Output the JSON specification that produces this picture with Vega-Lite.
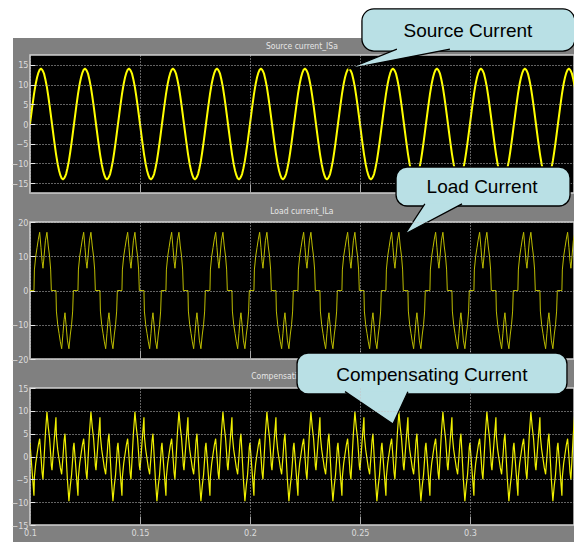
{
"$schema":"https://vega.github.io/schema/vega-lite/v6.json",
"background":"#ffffff",
"padding":{"left":-7,"top":-9,"right":0,"bottom":0},
"spacing":29,
"bounds":"flush",
"config":{
"view":{"fill":"#000000","stroke":"#808080","strokeWidth":34},
"axis":{"zindex":1,"grid":true,"gridColor":"#c4c4c4","gridDash":[1,2],"gridWidth":1,"domain":false,"labelColor":"#dcdcdc","labelFont":"Liberation Sans Narrow, DejaVu Sans Condensed, Liberation Sans","labelFontSize":9,"labelOverlap":false,"tickCount":12},
"axisX":{"ticks":true,"tickSize":-9,"tickColor":"#a8a8a8","tickWidth":1,"labelPadding":12},
"axisY":{"ticks":true,"tickSize":-5,"tickColor":"#e8e8e8","tickWidth":1,"labelPadding":7}
},
"datasets":{"w":[
{"t":0.1000,"s":0,"l":0,"c":3},{"t":0.1010,"s":4.3,"l":0,"c":-3.5},{"t":0.1018,"s":7.5,"l":0,"c":-8.6},{"t":0.1020,"s":8.2,"l":6,"c":-4.5},{"t":0.1026,"s":10.2,"l":10,"c":-1.5},{"t":0.1032,"s":11.8,"l":12.5,"c":0.5},{"t":0.1038,"s":13,"l":15,"c":2.5},{"t":0.1044,"s":13.8,"l":17,"c":3.9},{"t":0.1050,"s":14,"l":12.5,"c":0},{"t":0.1055,"s":13.8,"l":8.5,"c":-3.5},{"t":0.1059,"s":13.4,"l":6.5,"c":-5},{"t":0.1064,"s":12.7,"l":10,"c":-0.5},{"t":0.1070,"s":11.3,"l":14.5,"c":5},{"t":0.1077,"s":9.3,"l":17,"c":9.8},{"t":0.1083,"s":7.1,"l":13,"c":6.5},{"t":0.1089,"s":4.7,"l":10,"c":4},{"t":0.1094,"s":2.6,"l":6,"c":0.5},{"t":0.1097,"s":1.3,"l":0,"c":-2},
{"t":0.1100,"s":0,"l":0,"c":-3},{"t":0.1110,"s":-4.3,"l":0,"c":3.5},{"t":0.1118,"s":-7.5,"l":0,"c":8.6},{"t":0.1120,"s":-8.2,"l":-6,"c":4.5},{"t":0.1126,"s":-10.2,"l":-10,"c":1.5},{"t":0.1132,"s":-11.8,"l":-12.5,"c":-0.5},{"t":0.1138,"s":-13,"l":-15,"c":-2.5},{"t":0.1144,"s":-13.8,"l":-17,"c":-3.9},{"t":0.1150,"s":-14,"l":-12.5,"c":0},{"t":0.1155,"s":-13.8,"l":-8.5,"c":3.5},{"t":0.1159,"s":-13.4,"l":-6.5,"c":5},{"t":0.1164,"s":-12.7,"l":-10,"c":0.5},{"t":0.1170,"s":-11.3,"l":-14.5,"c":-5},{"t":0.1177,"s":-9.3,"l":-17,"c":-9.8},{"t":0.1183,"s":-7.1,"l":-13,"c":-6.5},{"t":0.1189,"s":-4.7,"l":-10,"c":-4},{"t":0.1194,"s":-2.6,"l":-6,"c":-0.5},{"t":0.1197,"s":-1.3,"l":0,"c":2},
{"t":0.1200,"s":0,"l":0,"c":3},{"t":0.1210,"s":4.3,"l":0,"c":-3.5},{"t":0.1218,"s":7.5,"l":0,"c":-8.6},{"t":0.1220,"s":8.2,"l":6,"c":-4.5},{"t":0.1226,"s":10.2,"l":10,"c":-1.5},{"t":0.1232,"s":11.8,"l":12.5,"c":0.5},{"t":0.1238,"s":13,"l":15,"c":2.5},{"t":0.1244,"s":13.8,"l":17,"c":3.9},{"t":0.1250,"s":14,"l":12.5,"c":0},{"t":0.1255,"s":13.8,"l":8.5,"c":-3.5},{"t":0.1259,"s":13.4,"l":6.5,"c":-5},{"t":0.1264,"s":12.7,"l":10,"c":-0.5},{"t":0.1270,"s":11.3,"l":14.5,"c":5},{"t":0.1277,"s":9.3,"l":17,"c":9.8},{"t":0.1283,"s":7.1,"l":13,"c":6.5},{"t":0.1289,"s":4.7,"l":10,"c":4},{"t":0.1294,"s":2.6,"l":6,"c":0.5},{"t":0.1297,"s":1.3,"l":0,"c":-2},
{"t":0.1300,"s":0,"l":0,"c":-3},{"t":0.1310,"s":-4.3,"l":0,"c":3.5},{"t":0.1318,"s":-7.5,"l":0,"c":8.6},{"t":0.1320,"s":-8.2,"l":-6,"c":4.5},{"t":0.1326,"s":-10.2,"l":-10,"c":1.5},{"t":0.1332,"s":-11.8,"l":-12.5,"c":-0.5},{"t":0.1338,"s":-13,"l":-15,"c":-2.5},{"t":0.1344,"s":-13.8,"l":-17,"c":-3.9},{"t":0.1350,"s":-14,"l":-12.5,"c":0},{"t":0.1355,"s":-13.8,"l":-8.5,"c":3.5},{"t":0.1359,"s":-13.4,"l":-6.5,"c":5},{"t":0.1364,"s":-12.7,"l":-10,"c":0.5},{"t":0.1370,"s":-11.3,"l":-14.5,"c":-5},{"t":0.1377,"s":-9.3,"l":-17,"c":-9.8},{"t":0.1383,"s":-7.1,"l":-13,"c":-6.5},{"t":0.1389,"s":-4.7,"l":-10,"c":-4},{"t":0.1394,"s":-2.6,"l":-6,"c":-0.5},{"t":0.1397,"s":-1.3,"l":0,"c":2},
{"t":0.1400,"s":0,"l":0,"c":3},{"t":0.1410,"s":4.3,"l":0,"c":-3.5},{"t":0.1418,"s":7.5,"l":0,"c":-8.6},{"t":0.1420,"s":8.2,"l":6,"c":-4.5},{"t":0.1426,"s":10.2,"l":10,"c":-1.5},{"t":0.1432,"s":11.8,"l":12.5,"c":0.5},{"t":0.1438,"s":13,"l":15,"c":2.5},{"t":0.1444,"s":13.8,"l":17,"c":3.9},{"t":0.1450,"s":14,"l":12.5,"c":0},{"t":0.1455,"s":13.8,"l":8.5,"c":-3.5},{"t":0.1459,"s":13.4,"l":6.5,"c":-5},{"t":0.1464,"s":12.7,"l":10,"c":-0.5},{"t":0.1470,"s":11.3,"l":14.5,"c":5},{"t":0.1477,"s":9.3,"l":17,"c":9.8},{"t":0.1483,"s":7.1,"l":13,"c":6.5},{"t":0.1489,"s":4.7,"l":10,"c":4},{"t":0.1494,"s":2.6,"l":6,"c":0.5},{"t":0.1497,"s":1.3,"l":0,"c":-2},
{"t":0.1500,"s":0,"l":0,"c":-3},{"t":0.1510,"s":-4.3,"l":0,"c":3.5},{"t":0.1518,"s":-7.5,"l":0,"c":8.6},{"t":0.1520,"s":-8.2,"l":-6,"c":4.5},{"t":0.1526,"s":-10.2,"l":-10,"c":1.5},{"t":0.1532,"s":-11.8,"l":-12.5,"c":-0.5},{"t":0.1538,"s":-13,"l":-15,"c":-2.5},{"t":0.1544,"s":-13.8,"l":-17,"c":-3.9},{"t":0.1550,"s":-14,"l":-12.5,"c":0},{"t":0.1555,"s":-13.8,"l":-8.5,"c":3.5},{"t":0.1559,"s":-13.4,"l":-6.5,"c":5},{"t":0.1564,"s":-12.7,"l":-10,"c":0.5},{"t":0.1570,"s":-11.3,"l":-14.5,"c":-5},{"t":0.1577,"s":-9.3,"l":-17,"c":-9.8},{"t":0.1583,"s":-7.1,"l":-13,"c":-6.5},{"t":0.1589,"s":-4.7,"l":-10,"c":-4},{"t":0.1594,"s":-2.6,"l":-6,"c":-0.5},{"t":0.1597,"s":-1.3,"l":0,"c":2},
{"t":0.1600,"s":0,"l":0,"c":3},{"t":0.1610,"s":4.3,"l":0,"c":-3.5},{"t":0.1618,"s":7.5,"l":0,"c":-8.6},{"t":0.1620,"s":8.2,"l":6,"c":-4.5},{"t":0.1626,"s":10.2,"l":10,"c":-1.5},{"t":0.1632,"s":11.8,"l":12.5,"c":0.5},{"t":0.1638,"s":13,"l":15,"c":2.5},{"t":0.1644,"s":13.8,"l":17,"c":3.9},{"t":0.1650,"s":14,"l":12.5,"c":0},{"t":0.1655,"s":13.8,"l":8.5,"c":-3.5},{"t":0.1659,"s":13.4,"l":6.5,"c":-5},{"t":0.1664,"s":12.7,"l":10,"c":-0.5},{"t":0.1670,"s":11.3,"l":14.5,"c":5},{"t":0.1677,"s":9.3,"l":17,"c":9.8},{"t":0.1683,"s":7.1,"l":13,"c":6.5},{"t":0.1689,"s":4.7,"l":10,"c":4},{"t":0.1694,"s":2.6,"l":6,"c":0.5},{"t":0.1697,"s":1.3,"l":0,"c":-2},
{"t":0.1700,"s":0,"l":0,"c":-3},{"t":0.1710,"s":-4.3,"l":0,"c":3.5},{"t":0.1718,"s":-7.5,"l":0,"c":8.6},{"t":0.1720,"s":-8.2,"l":-6,"c":4.5},{"t":0.1726,"s":-10.2,"l":-10,"c":1.5},{"t":0.1732,"s":-11.8,"l":-12.5,"c":-0.5},{"t":0.1738,"s":-13,"l":-15,"c":-2.5},{"t":0.1744,"s":-13.8,"l":-17,"c":-3.9},{"t":0.1750,"s":-14,"l":-12.5,"c":0},{"t":0.1755,"s":-13.8,"l":-8.5,"c":3.5},{"t":0.1759,"s":-13.4,"l":-6.5,"c":5},{"t":0.1764,"s":-12.7,"l":-10,"c":0.5},{"t":0.1770,"s":-11.3,"l":-14.5,"c":-5},{"t":0.1777,"s":-9.3,"l":-17,"c":-9.8},{"t":0.1783,"s":-7.1,"l":-13,"c":-6.5},{"t":0.1789,"s":-4.7,"l":-10,"c":-4},{"t":0.1794,"s":-2.6,"l":-6,"c":-0.5},{"t":0.1797,"s":-1.3,"l":0,"c":2},
{"t":0.1800,"s":0,"l":0,"c":3},{"t":0.1810,"s":4.3,"l":0,"c":-3.5},{"t":0.1818,"s":7.5,"l":0,"c":-8.6},{"t":0.1820,"s":8.2,"l":6,"c":-4.5},{"t":0.1826,"s":10.2,"l":10,"c":-1.5},{"t":0.1832,"s":11.8,"l":12.5,"c":0.5},{"t":0.1838,"s":13,"l":15,"c":2.5},{"t":0.1844,"s":13.8,"l":17,"c":3.9},{"t":0.1850,"s":14,"l":12.5,"c":0},{"t":0.1855,"s":13.8,"l":8.5,"c":-3.5},{"t":0.1859,"s":13.4,"l":6.5,"c":-5},{"t":0.1864,"s":12.7,"l":10,"c":-0.5},{"t":0.1870,"s":11.3,"l":14.5,"c":5},{"t":0.1877,"s":9.3,"l":17,"c":9.8},{"t":0.1883,"s":7.1,"l":13,"c":6.5},{"t":0.1889,"s":4.7,"l":10,"c":4},{"t":0.1894,"s":2.6,"l":6,"c":0.5},{"t":0.1897,"s":1.3,"l":0,"c":-2},
{"t":0.1900,"s":0,"l":0,"c":-3},{"t":0.1910,"s":-4.3,"l":0,"c":3.5},{"t":0.1918,"s":-7.5,"l":0,"c":8.6},{"t":0.1920,"s":-8.2,"l":-6,"c":4.5},{"t":0.1926,"s":-10.2,"l":-10,"c":1.5},{"t":0.1932,"s":-11.8,"l":-12.5,"c":-0.5},{"t":0.1938,"s":-13,"l":-15,"c":-2.5},{"t":0.1944,"s":-13.8,"l":-17,"c":-3.9},{"t":0.1950,"s":-14,"l":-12.5,"c":0},{"t":0.1955,"s":-13.8,"l":-8.5,"c":3.5},{"t":0.1959,"s":-13.4,"l":-6.5,"c":5},{"t":0.1964,"s":-12.7,"l":-10,"c":0.5},{"t":0.1970,"s":-11.3,"l":-14.5,"c":-5},{"t":0.1977,"s":-9.3,"l":-17,"c":-9.8},{"t":0.1983,"s":-7.1,"l":-13,"c":-6.5},{"t":0.1989,"s":-4.7,"l":-10,"c":-4},{"t":0.1994,"s":-2.6,"l":-6,"c":-0.5},{"t":0.1997,"s":-1.3,"l":0,"c":2},
{"t":0.2000,"s":0,"l":0,"c":3},{"t":0.2010,"s":4.3,"l":0,"c":-3.5},{"t":0.2018,"s":7.5,"l":0,"c":-8.6},{"t":0.2020,"s":8.2,"l":6,"c":-4.5},{"t":0.2026,"s":10.2,"l":10,"c":-1.5},{"t":0.2032,"s":11.8,"l":12.5,"c":0.5},{"t":0.2038,"s":13,"l":15,"c":2.5},{"t":0.2044,"s":13.8,"l":17,"c":3.9},{"t":0.2050,"s":14,"l":12.5,"c":0},{"t":0.2055,"s":13.8,"l":8.5,"c":-3.5},{"t":0.2059,"s":13.4,"l":6.5,"c":-5},{"t":0.2064,"s":12.7,"l":10,"c":-0.5},{"t":0.2070,"s":11.3,"l":14.5,"c":5},{"t":0.2077,"s":9.3,"l":17,"c":9.8},{"t":0.2083,"s":7.1,"l":13,"c":6.5},{"t":0.2089,"s":4.7,"l":10,"c":4},{"t":0.2094,"s":2.6,"l":6,"c":0.5},{"t":0.2097,"s":1.3,"l":0,"c":-2},
{"t":0.2100,"s":0,"l":0,"c":-3},{"t":0.2110,"s":-4.3,"l":0,"c":3.5},{"t":0.2118,"s":-7.5,"l":0,"c":8.6},{"t":0.2120,"s":-8.2,"l":-6,"c":4.5},{"t":0.2126,"s":-10.2,"l":-10,"c":1.5},{"t":0.2132,"s":-11.8,"l":-12.5,"c":-0.5},{"t":0.2138,"s":-13,"l":-15,"c":-2.5},{"t":0.2144,"s":-13.8,"l":-17,"c":-3.9},{"t":0.2150,"s":-14,"l":-12.5,"c":0},{"t":0.2155,"s":-13.8,"l":-8.5,"c":3.5},{"t":0.2159,"s":-13.4,"l":-6.5,"c":5},{"t":0.2164,"s":-12.7,"l":-10,"c":0.5},{"t":0.2170,"s":-11.3,"l":-14.5,"c":-5},{"t":0.2177,"s":-9.3,"l":-17,"c":-9.8},{"t":0.2183,"s":-7.1,"l":-13,"c":-6.5},{"t":0.2189,"s":-4.7,"l":-10,"c":-4},{"t":0.2194,"s":-2.6,"l":-6,"c":-0.5},{"t":0.2197,"s":-1.3,"l":0,"c":2},
{"t":0.2200,"s":0,"l":0,"c":3},{"t":0.2210,"s":4.3,"l":0,"c":-3.5},{"t":0.2218,"s":7.5,"l":0,"c":-8.6},{"t":0.2220,"s":8.2,"l":6,"c":-4.5},{"t":0.2226,"s":10.2,"l":10,"c":-1.5},{"t":0.2232,"s":11.8,"l":12.5,"c":0.5},{"t":0.2238,"s":13,"l":15,"c":2.5},{"t":0.2244,"s":13.8,"l":17,"c":3.9},{"t":0.2250,"s":14,"l":12.5,"c":0},{"t":0.2255,"s":13.8,"l":8.5,"c":-3.5},{"t":0.2259,"s":13.4,"l":6.5,"c":-5},{"t":0.2264,"s":12.7,"l":10,"c":-0.5},{"t":0.2270,"s":11.3,"l":14.5,"c":5},{"t":0.2277,"s":9.3,"l":17,"c":9.8},{"t":0.2283,"s":7.1,"l":13,"c":6.5},{"t":0.2289,"s":4.7,"l":10,"c":4},{"t":0.2294,"s":2.6,"l":6,"c":0.5},{"t":0.2297,"s":1.3,"l":0,"c":-2},
{"t":0.2300,"s":0,"l":0,"c":-3},{"t":0.2310,"s":-4.3,"l":0,"c":3.5},{"t":0.2318,"s":-7.5,"l":0,"c":8.6},{"t":0.2320,"s":-8.2,"l":-6,"c":4.5},{"t":0.2326,"s":-10.2,"l":-10,"c":1.5},{"t":0.2332,"s":-11.8,"l":-12.5,"c":-0.5},{"t":0.2338,"s":-13,"l":-15,"c":-2.5},{"t":0.2344,"s":-13.8,"l":-17,"c":-3.9},{"t":0.2350,"s":-14,"l":-12.5,"c":0},{"t":0.2355,"s":-13.8,"l":-8.5,"c":3.5},{"t":0.2359,"s":-13.4,"l":-6.5,"c":5},{"t":0.2364,"s":-12.7,"l":-10,"c":0.5},{"t":0.2370,"s":-11.3,"l":-14.5,"c":-5},{"t":0.2377,"s":-9.3,"l":-17,"c":-9.8},{"t":0.2383,"s":-7.1,"l":-13,"c":-6.5},{"t":0.2389,"s":-4.7,"l":-10,"c":-4},{"t":0.2394,"s":-2.6,"l":-6,"c":-0.5},{"t":0.2397,"s":-1.3,"l":0,"c":2},
{"t":0.2400,"s":0,"l":0,"c":3},{"t":0.2410,"s":4.3,"l":0,"c":-3.5},{"t":0.2418,"s":7.5,"l":0,"c":-8.6},{"t":0.2420,"s":8.2,"l":6,"c":-4.5},{"t":0.2426,"s":10.2,"l":10,"c":-1.5},{"t":0.2432,"s":11.8,"l":12.5,"c":0.5},{"t":0.2438,"s":13,"l":15,"c":2.5},{"t":0.2444,"s":13.8,"l":17,"c":3.9},{"t":0.2450,"s":14,"l":12.5,"c":0},{"t":0.2455,"s":13.8,"l":8.5,"c":-3.5},{"t":0.2459,"s":13.4,"l":6.5,"c":-5},{"t":0.2464,"s":12.7,"l":10,"c":-0.5},{"t":0.2470,"s":11.3,"l":14.5,"c":5},{"t":0.2477,"s":9.3,"l":17,"c":9.8},{"t":0.2483,"s":7.1,"l":13,"c":6.5},{"t":0.2489,"s":4.7,"l":10,"c":4},{"t":0.2494,"s":2.6,"l":6,"c":0.5},{"t":0.2497,"s":1.3,"l":0,"c":-2},
{"t":0.2500,"s":0,"l":0,"c":-3},{"t":0.2510,"s":-4.3,"l":0,"c":3.5},{"t":0.2518,"s":-7.5,"l":0,"c":8.6},{"t":0.2520,"s":-8.2,"l":-6,"c":4.5},{"t":0.2526,"s":-10.2,"l":-10,"c":1.5},{"t":0.2532,"s":-11.8,"l":-12.5,"c":-0.5},{"t":0.2538,"s":-13,"l":-15,"c":-2.5},{"t":0.2544,"s":-13.8,"l":-17,"c":-3.9},{"t":0.2550,"s":-14,"l":-12.5,"c":0},{"t":0.2555,"s":-13.8,"l":-8.5,"c":3.5},{"t":0.2559,"s":-13.4,"l":-6.5,"c":5},{"t":0.2564,"s":-12.7,"l":-10,"c":0.5},{"t":0.2570,"s":-11.3,"l":-14.5,"c":-5},{"t":0.2577,"s":-9.3,"l":-17,"c":-9.8},{"t":0.2583,"s":-7.1,"l":-13,"c":-6.5},{"t":0.2589,"s":-4.7,"l":-10,"c":-4},{"t":0.2594,"s":-2.6,"l":-6,"c":-0.5},{"t":0.2597,"s":-1.3,"l":0,"c":2},
{"t":0.2600,"s":0,"l":0,"c":3},{"t":0.2610,"s":4.3,"l":0,"c":-3.5},{"t":0.2618,"s":7.5,"l":0,"c":-8.6},{"t":0.2620,"s":8.2,"l":6,"c":-4.5},{"t":0.2626,"s":10.2,"l":10,"c":-1.5},{"t":0.2632,"s":11.8,"l":12.5,"c":0.5},{"t":0.2638,"s":13,"l":15,"c":2.5},{"t":0.2644,"s":13.8,"l":17,"c":3.9},{"t":0.2650,"s":14,"l":12.5,"c":0},{"t":0.2655,"s":13.8,"l":8.5,"c":-3.5},{"t":0.2659,"s":13.4,"l":6.5,"c":-5},{"t":0.2664,"s":12.7,"l":10,"c":-0.5},{"t":0.2670,"s":11.3,"l":14.5,"c":5},{"t":0.2677,"s":9.3,"l":17,"c":9.8},{"t":0.2683,"s":7.1,"l":13,"c":6.5},{"t":0.2689,"s":4.7,"l":10,"c":4},{"t":0.2694,"s":2.6,"l":6,"c":0.5},{"t":0.2697,"s":1.3,"l":0,"c":-2},
{"t":0.2700,"s":0,"l":0,"c":-3},{"t":0.2710,"s":-4.3,"l":0,"c":3.5},{"t":0.2718,"s":-7.5,"l":0,"c":8.6},{"t":0.2720,"s":-8.2,"l":-6,"c":4.5},{"t":0.2726,"s":-10.2,"l":-10,"c":1.5},{"t":0.2732,"s":-11.8,"l":-12.5,"c":-0.5},{"t":0.2738,"s":-13,"l":-15,"c":-2.5},{"t":0.2744,"s":-13.8,"l":-17,"c":-3.9},{"t":0.2750,"s":-14,"l":-12.5,"c":0},{"t":0.2755,"s":-13.8,"l":-8.5,"c":3.5},{"t":0.2759,"s":-13.4,"l":-6.5,"c":5},{"t":0.2764,"s":-12.7,"l":-10,"c":0.5},{"t":0.2770,"s":-11.3,"l":-14.5,"c":-5},{"t":0.2777,"s":-9.3,"l":-17,"c":-9.8},{"t":0.2783,"s":-7.1,"l":-13,"c":-6.5},{"t":0.2789,"s":-4.7,"l":-10,"c":-4},{"t":0.2794,"s":-2.6,"l":-6,"c":-0.5},{"t":0.2797,"s":-1.3,"l":0,"c":2},
{"t":0.2800,"s":0,"l":0,"c":3},{"t":0.2810,"s":4.3,"l":0,"c":-3.5},{"t":0.2818,"s":7.5,"l":0,"c":-8.6},{"t":0.2820,"s":8.2,"l":6,"c":-4.5},{"t":0.2826,"s":10.2,"l":10,"c":-1.5},{"t":0.2832,"s":11.8,"l":12.5,"c":0.5},{"t":0.2838,"s":13,"l":15,"c":2.5},{"t":0.2844,"s":13.8,"l":17,"c":3.9},{"t":0.2850,"s":14,"l":12.5,"c":0},{"t":0.2855,"s":13.8,"l":8.5,"c":-3.5},{"t":0.2859,"s":13.4,"l":6.5,"c":-5},{"t":0.2864,"s":12.7,"l":10,"c":-0.5},{"t":0.2870,"s":11.3,"l":14.5,"c":5},{"t":0.2877,"s":9.3,"l":17,"c":9.8},{"t":0.2883,"s":7.1,"l":13,"c":6.5},{"t":0.2889,"s":4.7,"l":10,"c":4},{"t":0.2894,"s":2.6,"l":6,"c":0.5},{"t":0.2897,"s":1.3,"l":0,"c":-2},
{"t":0.2900,"s":0,"l":0,"c":-3},{"t":0.2910,"s":-4.3,"l":0,"c":3.5},{"t":0.2918,"s":-7.5,"l":0,"c":8.6},{"t":0.2920,"s":-8.2,"l":-6,"c":4.5},{"t":0.2926,"s":-10.2,"l":-10,"c":1.5},{"t":0.2932,"s":-11.8,"l":-12.5,"c":-0.5},{"t":0.2938,"s":-13,"l":-15,"c":-2.5},{"t":0.2944,"s":-13.8,"l":-17,"c":-3.9},{"t":0.2950,"s":-14,"l":-12.5,"c":0},{"t":0.2955,"s":-13.8,"l":-8.5,"c":3.5},{"t":0.2959,"s":-13.4,"l":-6.5,"c":5},{"t":0.2964,"s":-12.7,"l":-10,"c":0.5},{"t":0.2970,"s":-11.3,"l":-14.5,"c":-5},{"t":0.2977,"s":-9.3,"l":-17,"c":-9.8},{"t":0.2983,"s":-7.1,"l":-13,"c":-6.5},{"t":0.2989,"s":-4.7,"l":-10,"c":-4},{"t":0.2994,"s":-2.6,"l":-6,"c":-0.5},{"t":0.2997,"s":-1.3,"l":0,"c":2},
{"t":0.3000,"s":0,"l":0,"c":3},{"t":0.3010,"s":4.3,"l":0,"c":-3.5},{"t":0.3018,"s":7.5,"l":0,"c":-8.6},{"t":0.3020,"s":8.2,"l":6,"c":-4.5},{"t":0.3026,"s":10.2,"l":10,"c":-1.5},{"t":0.3032,"s":11.8,"l":12.5,"c":0.5},{"t":0.3038,"s":13,"l":15,"c":2.5},{"t":0.3044,"s":13.8,"l":17,"c":3.9},{"t":0.3050,"s":14,"l":12.5,"c":0},{"t":0.3055,"s":13.8,"l":8.5,"c":-3.5},{"t":0.3059,"s":13.4,"l":6.5,"c":-5},{"t":0.3064,"s":12.7,"l":10,"c":-0.5},{"t":0.3070,"s":11.3,"l":14.5,"c":5},{"t":0.3077,"s":9.3,"l":17,"c":9.8},{"t":0.3083,"s":7.1,"l":13,"c":6.5},{"t":0.3089,"s":4.7,"l":10,"c":4},{"t":0.3094,"s":2.6,"l":6,"c":0.5},{"t":0.3097,"s":1.3,"l":0,"c":-2},
{"t":0.3100,"s":0,"l":0,"c":-3},{"t":0.3110,"s":-4.3,"l":0,"c":3.5},{"t":0.3118,"s":-7.5,"l":0,"c":8.6},{"t":0.3120,"s":-8.2,"l":-6,"c":4.5},{"t":0.3126,"s":-10.2,"l":-10,"c":1.5},{"t":0.3132,"s":-11.8,"l":-12.5,"c":-0.5},{"t":0.3138,"s":-13,"l":-15,"c":-2.5},{"t":0.3144,"s":-13.8,"l":-17,"c":-3.9},{"t":0.3150,"s":-14,"l":-12.5,"c":0},{"t":0.3155,"s":-13.8,"l":-8.5,"c":3.5},{"t":0.3159,"s":-13.4,"l":-6.5,"c":5},{"t":0.3164,"s":-12.7,"l":-10,"c":0.5},{"t":0.3170,"s":-11.3,"l":-14.5,"c":-5},{"t":0.3177,"s":-9.3,"l":-17,"c":-9.8},{"t":0.3183,"s":-7.1,"l":-13,"c":-6.5},{"t":0.3189,"s":-4.7,"l":-10,"c":-4},{"t":0.3194,"s":-2.6,"l":-6,"c":-0.5},{"t":0.3197,"s":-1.3,"l":0,"c":2},
{"t":0.3200,"s":0,"l":0,"c":3},{"t":0.3210,"s":4.3,"l":0,"c":-3.5},{"t":0.3218,"s":7.5,"l":0,"c":-8.6},{"t":0.3220,"s":8.2,"l":6,"c":-4.5},{"t":0.3226,"s":10.2,"l":10,"c":-1.5},{"t":0.3232,"s":11.8,"l":12.5,"c":0.5},{"t":0.3238,"s":13,"l":15,"c":2.5},{"t":0.3244,"s":13.8,"l":17,"c":3.9},{"t":0.3250,"s":14,"l":12.5,"c":0},{"t":0.3255,"s":13.8,"l":8.5,"c":-3.5},{"t":0.3259,"s":13.4,"l":6.5,"c":-5},{"t":0.3264,"s":12.7,"l":10,"c":-0.5},{"t":0.3270,"s":11.3,"l":14.5,"c":5},{"t":0.3277,"s":9.3,"l":17,"c":9.8},{"t":0.3283,"s":7.1,"l":13,"c":6.5},{"t":0.3289,"s":4.7,"l":10,"c":4},{"t":0.3294,"s":2.6,"l":6,"c":0.5},{"t":0.3297,"s":1.3,"l":0,"c":-2},
{"t":0.3300,"s":0,"l":0,"c":-3},{"t":0.3310,"s":-4.3,"l":0,"c":3.5},{"t":0.3318,"s":-7.5,"l":0,"c":8.6},{"t":0.3320,"s":-8.2,"l":-6,"c":4.5},{"t":0.3326,"s":-10.2,"l":-10,"c":1.5},{"t":0.3332,"s":-11.8,"l":-12.5,"c":-0.5},{"t":0.3338,"s":-13,"l":-15,"c":-2.5},{"t":0.3344,"s":-13.8,"l":-17,"c":-3.9},{"t":0.3350,"s":-14,"l":-12.5,"c":0},{"t":0.3355,"s":-13.8,"l":-8.5,"c":3.5},{"t":0.3359,"s":-13.4,"l":-6.5,"c":5},{"t":0.3364,"s":-12.7,"l":-10,"c":0.5},{"t":0.3370,"s":-11.3,"l":-14.5,"c":-5},{"t":0.3377,"s":-9.3,"l":-17,"c":-9.8},{"t":0.3383,"s":-7.1,"l":-13,"c":-6.5},{"t":0.3389,"s":-4.7,"l":-10,"c":-4},{"t":0.3394,"s":-2.6,"l":-6,"c":-0.5},{"t":0.3397,"s":-1.3,"l":0,"c":2},
{"t":0.3400,"s":0,"l":0,"c":3},{"t":0.3410,"s":4.3,"l":0,"c":-3.5},{"t":0.3418,"s":7.5,"l":0,"c":-8.6},{"t":0.3420,"s":8.2,"l":6,"c":-4.5},{"t":0.3426,"s":10.2,"l":10,"c":-1.5},{"t":0.3432,"s":11.8,"l":12.5,"c":0.5},{"t":0.3438,"s":13,"l":15,"c":2.5},{"t":0.3444,"s":13.8,"l":17,"c":3.9},{"t":0.3450,"s":14,"l":12.5,"c":0},{"t":0.3455,"s":13.8,"l":8.5,"c":-3.5},{"t":0.3459,"s":13.4,"l":6.5,"c":-5},{"t":0.3464,"s":12.7,"l":10,"c":-0.5},{"t":0.3470,"s":11.3,"l":14.5,"c":5},{"t":0.3477,"s":9.3,"l":17,"c":9.8}
]},
"vconcat":[
{"width":544,"height":138,
"layer":[
{"data":{"values":[{"k":1}]},"mark":{"type":"rect","fill":"#000000","stroke":"#d0d0d0","strokeWidth":1.5},
"encoding":{"x":{"datum":0.1,"type":"quantitative","scale":{"domain":[0.1,0.3473],"nice":false,"zero":false},"axis":{"values":[0.1,0.15,0.2,0.25,0.3],"labels":false,"title":null,"zindex":1,"tickCount":12}},"x2":{"datum":0.3473},
"y":{"datum":-17.5,"type":"quantitative","scale":{"domain":[-17.5,17.5],"nice":false,"zero":false},"axis":{"values":[-15,-10,-5,0,5,10,15],"title":null,"zindex":1,"labelOverlap":false,"tickCount":12}},"y2":{"datum":17.5}}},
{"data":{"name":"w"},"mark":{"type":"line","stroke":"#ffff00","strokeWidth":2,"clip":true},
"encoding":{"x":{"field":"t","type":"quantitative","axis":{"values":[0.1,0.15,0.2,0.25,0.3],"labels":false,"title":null,"zindex":1,"tickCount":12}},"y":{"field":"s","type":"quantitative","axis":{"values":[-15,-10,-5,0,5,10,15],"title":null,"zindex":1,"labelOverlap":false,"tickCount":12}}}},
{"data":{"values":[{"name":"Source current_ISa"}]},"mark":{"type":"text","font":"Liberation Sans Narrow, DejaVu Sans Condensed, Liberation Sans","fontSize":8.5,"color":"#e6e6e6"},
"encoding":{"x":{"datum":0.2236,"type":"quantitative"},"y":{"datum":19.8,"type":"quantitative"},"text":{"field":"name"}}},
{"data":{"values":[{"k":1}]},"mark":{"type":"rect","fill":"#b9e0e5","stroke":"#000000","strokeWidth":1.3,"cornerRadius":12},
"encoding":{"x":{"datum":0.2509,"type":"quantitative"},"x2":{"datum":0.3477},"y":{"datum":18.5,"type":"quantitative"},"y2":{"datum":29.2}}},
{"data":{"values":[{"px":0.2668,"py":19.0,"o":1},{"px":0.2446,"py":13.95,"o":2},{"px":0.2909,"py":19.0,"o":3}]},"mark":{"type":"line","fill":"#b9e0e5","stroke":"#000000","strokeWidth":1.3},
"encoding":{"x":{"field":"px","type":"quantitative"},"y":{"field":"py","type":"quantitative"},"order":{"field":"o","type":"quantitative"}}},
{"data":{"values":[{"label":"Source Current"}]},"mark":{"type":"text","font":"Liberation Sans","fontSize":19,"color":"#000000"},
"encoding":{"x":{"datum":0.2991,"type":"quantitative"},"y":{"datum":23.6,"type":"quantitative"},"text":{"field":"label"}}}
]},
{"width":544,"height":137,
"layer":[
{"data":{"values":[{"k":1}]},"mark":{"type":"rect","fill":"#000000","stroke":"#d0d0d0","strokeWidth":1.5},
"encoding":{"x":{"datum":0.1,"type":"quantitative","scale":{"domain":[0.1,0.3473],"nice":false,"zero":false},"axis":{"values":[0.1,0.15,0.2,0.25,0.3],"labels":false,"title":null,"zindex":1,"tickCount":12}},"x2":{"datum":0.3473},
"y":{"datum":-20,"type":"quantitative","scale":{"domain":[-20,20],"nice":false,"zero":false},"axis":{"values":[-20,-10,0,10,20],"title":null,"zindex":1,"labelOverlap":false,"tickCount":12}},"y2":{"datum":20}}},
{"data":{"name":"w"},"mark":{"type":"line","stroke":"#bdbd00","strokeWidth":1,"clip":true},
"encoding":{"x":{"field":"t","type":"quantitative","axis":{"values":[0.1,0.15,0.2,0.25,0.3],"labels":false,"title":null,"zindex":1,"tickCount":12}},"y":{"field":"l","type":"quantitative","axis":{"values":[-20,-10,0,10,20],"title":null,"zindex":1,"labelOverlap":false,"tickCount":12}}}},
{"data":{"values":[{"name":"Load current_ILa"}]},"mark":{"type":"text","font":"Liberation Sans Narrow, DejaVu Sans Condensed, Liberation Sans","fontSize":8.5,"color":"#e6e6e6"},
"encoding":{"x":{"datum":0.2236,"type":"quantitative"},"y":{"datum":23.2,"type":"quantitative"},"text":{"field":"name"}}},
{"data":{"values":[{"k":1}]},"mark":{"type":"rect","fill":"#b9e0e5","stroke":"#000000","strokeWidth":1.3,"cornerRadius":11},
"encoding":{"x":{"datum":0.2664,"type":"quantitative"},"x2":{"datum":0.3455},"y":{"datum":24.67,"type":"quantitative"},"y2":{"datum":36.06}}},
{"data":{"values":[{"px":0.2795,"py":25.3,"o":1},{"px":0.2705,"py":16.5,"o":2},{"px":0.2964,"py":25.3,"o":3}]},"mark":{"type":"line","fill":"#b9e0e5","stroke":"#000000","strokeWidth":1.3},
"encoding":{"x":{"field":"px","type":"quantitative"},"y":{"field":"py","type":"quantitative"},"order":{"field":"o","type":"quantitative"}}},
{"data":{"values":[{"label":"Load Current"}]},"mark":{"type":"text","font":"Liberation Sans","fontSize":19,"color":"#000000"},
"encoding":{"x":{"datum":0.3055,"type":"quantitative"},"y":{"datum":30.2,"type":"quantitative"},"text":{"field":"label"}}}
]},
{"width":544,"height":137,
"layer":[
{"data":{"values":[{"k":1}]},"mark":{"type":"rect","fill":"#000000","stroke":"#d0d0d0","strokeWidth":1.5},
"encoding":{"x":{"datum":0.1,"type":"quantitative","scale":{"domain":[0.1,0.3473],"nice":false,"zero":false},"axis":{"values":[0.1,0.15,0.2,0.25,0.3],"format":"~g","labelFlush":false,"title":null,"zindex":1,"tickCount":12}},"x2":{"datum":0.3473},
"y":{"datum":-15,"type":"quantitative","scale":{"domain":[-15,15],"nice":false,"zero":false},"axis":{"values":[-15,-10,-5,0,5,10,15],"title":null,"zindex":1,"labelOverlap":false,"tickCount":12,"gridColor":{"condition":{"test":"abs(datum.value) >= 15","value":"transparent"},"value":"#c4c4c4"}}},"y2":{"datum":15}}},
{"data":{"name":"w"},"mark":{"type":"line","stroke":"#f0f000","strokeWidth":1.2,"clip":true},
"encoding":{"x":{"field":"t","type":"quantitative","axis":{"values":[0.1,0.15,0.2,0.25,0.3],"format":"~g","labelFlush":false,"title":null,"zindex":1,"tickCount":12}},"y":{"field":"c","type":"quantitative","axis":{"values":[-15,-10,-5,0,5,10,15],"title":null,"zindex":1,"labelOverlap":false,"tickCount":12,"gridColor":{"condition":{"test":"abs(datum.value) >= 15","value":"transparent"},"value":"#c4c4c4"}}}}},
{"data":{"values":[{"name":"Compensating current_ICa"}]},"mark":{"type":"text","font":"Liberation Sans Narrow, DejaVu Sans Condensed, Liberation Sans","fontSize":8.5,"color":"#e6e6e6"},
"encoding":{"x":{"datum":0.2236,"type":"quantitative"},"y":{"datum":17.6,"type":"quantitative"},"text":{"field":"name"}}},
{"data":{"values":[{"k":1}]},"mark":{"type":"rect","fill":"#b9e0e5","stroke":"#000000","strokeWidth":1.3,"cornerRadius":11},
"encoding":{"x":{"datum":0.2214,"type":"quantitative"},"x2":{"datum":0.3441},"y":{"datum":13.69,"type":"quantitative"},"y2":{"datum":22.66}}},
{"data":{"values":[{"px":0.2432,"py":14.2,"o":1},{"px":0.265,"py":7.12,"o":2},{"px":0.2718,"py":14.2,"o":3}]},"mark":{"type":"line","fill":"#b9e0e5","stroke":"#000000","strokeWidth":1.3},
"encoding":{"x":{"field":"px","type":"quantitative"},"y":{"field":"py","type":"quantitative"},"order":{"field":"o","type":"quantitative"}}},
{"data":{"values":[{"label":"Compensating Current"}]},"mark":{"type":"text","font":"Liberation Sans","fontSize":19,"color":"#000000"},
"encoding":{"x":{"datum":0.2827,"type":"quantitative"},"y":{"datum":17.85,"type":"quantitative"},"text":{"field":"label"}}}
]}
]
}
